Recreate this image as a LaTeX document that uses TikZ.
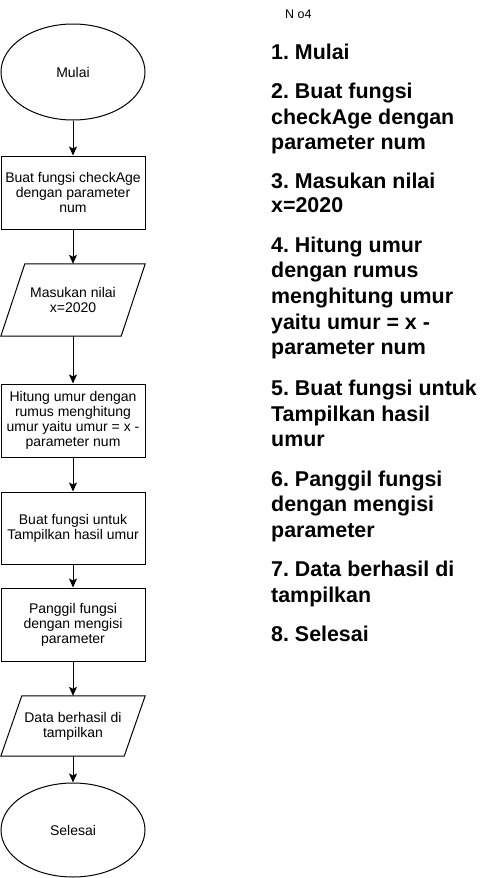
\documentclass[tikz,border=0pt]{standalone}
\usepackage{fontspec}
\setmainfont{Liberation Sans}
\usetikzlibrary{shapes.geometric,arrows.meta,calc}
\frenchspacing
\begin{document}
\begin{tikzpicture}[x=1pt,y=-1pt,
  every node/.style={font=\fontsize{14}{15}\selectfont},
  proc/.style={draw,line width=1pt,minimum width=144pt,minimum height=73pt,inner sep=1pt,align=center},
  term/.style={draw,ellipse,line width=1pt,minimum width=144pt,minimum height=96pt,inner sep=0pt,align=center},
  io/.style={minimum width=144pt,inner sep=0pt,align=center},
  para/.style={line width=1pt},
  flow/.style={line width=1pt,-{Stealth[length=9pt,width=8pt,inset=2pt]}},
  steptxt/.style={anchor=base west,inner sep=0pt,font=\fontsize{21.4}{25.7}\selectfont\bfseries},
  notetxt/.style={anchor=base west,inner sep=0pt,font=\fontsize{12.5}{14.4}\selectfont},
]
\fill[white] (0,0) rectangle (494,878);
\useasboundingbox (0,0) rectangle (494,878);

% flowchart
\node[term] (start) at (73,72) {Mulai};
\node[proc] (b1) at (73,192.5) {Buat fungsi checkAge\\dengan parameter\\num};
\node[io,minimum height=72pt] (in) at (73,300) {Masukan nilai\\x=2020};
\draw[para] ($(in.north west)+(24,0)$) -- (in.north east) -- ($(in.south east)+(-24,0)$) -- (in.south west) -- cycle;
\node[proc] (b2) at (73,420.5) {Hitung umur dengan\\rumus menghitung\\umur yaitu umur = x -\\parameter num};
\node[proc,minimum height=72pt] (b3) at (73,528) {Buat fungsi untuk\\Tampilkan hasil umur};
\node[proc] (b4) at (73,624.5) {Panggil fungsi\\dengan mengisi\\parameter};
\node[io,minimum height=60pt] (out) at (73,726) {Data berhasil di\\tampilkan};
\draw[para] ($(out.north west)+(21,0)$) -- (out.north east) -- ($(out.south east)+(-21,0)$) -- (out.south west) -- cycle;
\node[term,minimum height=94pt] (end) at (73,830) {Selesai};

\draw[flow] (start) -- (b1);
\draw[flow] (b1) -- (in);
\draw[flow] (in) -- (b2);
\draw[flow] (b2) -- (b3);
\draw[flow] (b3) -- (b4);
\draw[flow] (b4) -- (out);
\draw[flow] (out) -- (end);

% notes
\node[notetxt] (title) at (285,18) {N o4};
\foreach \yy/\tt [count=\i] in {
  59/1. Mulai,
  98/2. Buat fungsi,
  124/checkAge dengan,
  149.5/parameter num,
  188/3. Masukan nilai,
  212.5/x=2020,
  252/4. Hitung umur,
  277.5/dengan rumus,
  303/menghitung umur,
  329/yaitu umur = x -,
  354.5/parameter num,
  395/5. Buat fungsi untuk,
  421/Tampilkan hasil,
  446/umur,
  486/6. Panggil fungsi,
  511.5/dengan mengisi,
  537/parameter,
  576/7. Data berhasil di,
  602/tampilkan,
  641/8. Selesai}
  \node[steptxt] (s\i) at (271,\yy) {\tt};
\end{tikzpicture}
\end{document}
